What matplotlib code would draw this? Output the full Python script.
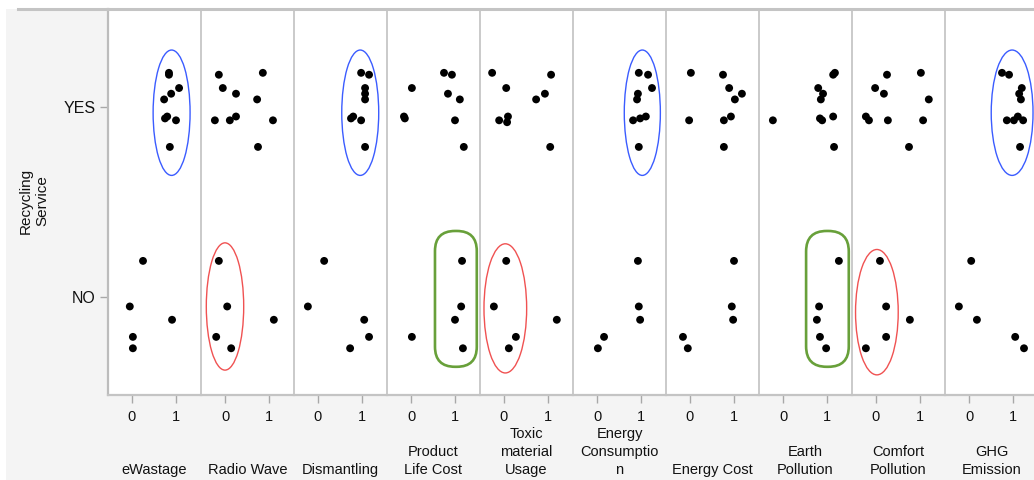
"""
Recycling Service (YES/NO) vs ten binary attributes: jittered dot panels
with highlight shapes, JMP-style.
"""
import matplotlib
matplotlib.use("Agg")
import matplotlib.pyplot as plt
import matplotlib.patches as mpatches
from matplotlib.lines import Line2D

plt.rcParams["font.family"] = ["Liberation Sans", "DejaVu Sans"]

# ── Data (jittered positions) ───────────────────────────────────────────────
CATEGORIES = ["eWastage", "Radio Wave", "Dismantling", "Product\nLife Cost",
              "Toxic\nmaterial\nUsage", "Energy\nConsumptio\nn", "Energy Cost",
              "Earth\nPollution", "Comfort\nPollution", "GHG\nEmission"]
X_TICKS = [0, 1]
X_TICK_LABELS = ["0", "1"]
Y_TICKS = [0, 1]
Y_TICK_LABELS = ["NO", "YES"]

yes_x = {
    "eWastage":    [0.84, 0.84, 1.07, 0.89, 0.73, 0.80, 0.75, 1.00, 0.86],
    "Radio Wave":  [0.86, -0.14, -0.05, 0.25, 0.73, 0.25, 0.11, -0.23, 1.09, 0.75],
    "Dismantling": [0.98, 1.16, 1.07, 1.07, 1.07, 0.80, 0.75, 0.98, 1.07],
    "Product":     [0.75, 0.93, 0.02, 0.84, 1.11, -0.16, -0.14, 1.00, 1.20],
    "Toxic":       [-0.27, 1.07, 0.05, 0.93, 0.73, 0.09, -0.11, 0.07, 1.05],
    "Consumption": [0.95, 1.16, 1.25, 0.93, 0.91, 1.11, 0.98, 0.82, 0.95],
    "Energy Cost": [0.02, 0.75, 0.89, 1.18, 1.02, 0.93, 0.77, -0.02, 0.77],
    "Earth":       [1.18, 1.14, 0.80, 0.91, 0.86, 1.14, 0.84, 0.89, -0.23, 1.16],
    "Comfort":     [0.25, 1.02, -0.02, 0.18, 1.20, -0.23, -0.16, 0.27, 1.07, 0.75],
    "GHG":         [0.75, 0.91, 1.20, 1.14, 1.18, 1.11, 0.86, 1.02, 1.23, 1.16],
}
yes_y = {
    "eWastage":    [1.18, 1.17, 1.10, 1.07, 1.04, 0.95, 0.94, 0.93, 0.79],
    "Radio Wave":  [1.18, 1.17, 1.10, 1.07, 1.04, 0.95, 0.93, 0.93, 0.93, 0.79],
    "Dismantling": [1.18, 1.17, 1.10, 1.07, 1.04, 0.95, 0.94, 0.93, 0.79],
    "Product":     [1.18, 1.17, 1.10, 1.07, 1.04, 0.95, 0.94, 0.93, 0.79],
    "Toxic":       [1.18, 1.17, 1.10, 1.07, 1.04, 0.95, 0.93, 0.92, 0.79],
    "Consumption": [1.18, 1.17, 1.10, 1.07, 1.04, 0.95, 0.94, 0.93, 0.79],
    "Energy Cost": [1.18, 1.17, 1.10, 1.07, 1.04, 0.95, 0.93, 0.93, 0.79],
    "Earth":       [1.18, 1.17, 1.10, 1.07, 1.04, 0.95, 0.94, 0.93, 0.93, 0.79],
    "Comfort":     [1.17, 1.18, 1.10, 1.07, 1.04, 0.95, 0.93, 0.93, 0.93, 0.79],
    "GHG":         [1.18, 1.17, 1.10, 1.07, 1.04, 0.95, 0.93, 0.93, 0.93, 0.79],
}
no_x = {
    "eWastage":    [0.25, -0.05, 0.91, 0.02, 0.02],
    "Radio Wave":  [-0.14, 0.05, 1.11, -0.20, 0.14],
    "Dismantling": [0.14, -0.23, 1.05, 1.16, 0.73],
    "Product":     [1.16, 1.14, 1.00, 0.02, 1.18],
    "Toxic":       [0.05, -0.23, 1.20, 0.27, 0.11],
    "Consumption": [0.93, 0.95, 0.98, 0.16, 0.02],
    "Energy Cost": [1.00, 0.95, 0.98, -0.16, -0.05],
    "Earth":       [1.27, 0.82, 0.77, 0.84, 0.98],
    "Comfort":     [0.09, 0.23, 0.77, 0.23, -0.23],
    "GHG":         [0.05, -0.23, 0.18, 1.05, 1.25],
}
no_y = [0.19, -0.05, -0.12, -0.21, -0.27]   # same rows in every panel

KEYS = list(yes_x.keys())

# highlight shapes: (panel, kind, cx, cy, w, h, colour)
HIGHLIGHTS = [
    (0, "ellipse", 0.90, 0.97, 0.84, 0.66, "#3b5cff"),
    (2, "ellipse", 0.96, 0.97, 0.84, 0.66, "#3b5cff"),
    (5, "ellipse", 1.03, 0.97, 0.82, 0.66, "#3b5cff"),
    (9, "ellipse", 0.98, 0.97, 0.95, 0.66, "#3b5cff"),
    (1, "ellipse", 0.00, -0.05, 0.85, 0.67, "#f05252"),
    (4, "ellipse", 0.03, -0.06, 0.97, 0.68, "#f05252"),
    (8, "ellipse", 0.02, -0.08, 0.97, 0.66, "#f05252"),
    (3, "stadium", 1.02, -0.01, 0.95, 0.715, "#68a03a"),
    (7, "stadium", 1.01, -0.01, 0.97, 0.715, "#68a03a"),
]

# ── Layout (pixels) ─────────────────────────────────────────────────────────
W, H = 1034, 480
LEFT, TOP, BOTTOM, PANEL_W = 108, 9, 395, 93
GRID = "#c4c4c4"
INK = "#111111"

fig = plt.figure(figsize=(W / 100, H / 100), dpi=100, facecolor="white")
fig.patches.append(mpatches.Rectangle((6 / W, 0), 1, 1 - TOP / H,
                                      transform=fig.transFigure,
                                      facecolor="#f4f4f4", edgecolor="none",
                                      zorder=-10))
fig.add_artist(Line2D([18 / W, 1], [1 - TOP / H, 1 - TOP / H],
                      transform=fig.transFigure, color=GRID, lw=2.2))

axes = []
for i, key in enumerate(KEYS):
    ax = fig.add_axes([(LEFT + PANEL_W * i) / W, (H - BOTTOM) / H,
                       PANEL_W / W, (BOTTOM - TOP) / H])
    ax.set_facecolor("white")
    ax.set_xlim(-24 / 44, 69 / 44)
    ax.set_ylim(-0.516, 1.516)

    ax.scatter(yes_x[key], yes_y[key], s=32, c="black", edgecolors="none",
               zorder=3)
    ax.scatter(no_x[key], no_y, s=32, c="black", edgecolors="none", zorder=3)

    ax.set_xticks(X_TICKS)
    ax.set_xticklabels(X_TICK_LABELS, fontsize=10.5, color=INK)
    ax.tick_params(axis="x", length=6, width=1, color="#a8a8a8", pad=4.5)
    for s in ["top", "right"]:
        ax.spines[s].set_visible(False)
    ax.spines["bottom"].set_color(GRID)
    ax.spines["bottom"].set_linewidth(1.6)
    ax.spines["left"].set_color("#bcbcbc")
    ax.spines["left"].set_linewidth(1.6 if i == 0 else 1.1)

    if i == 0:
        ax.set_yticks(Y_TICKS)
        ax.set_yticklabels(Y_TICK_LABELS, fontsize=11.5, color=INK)
        ax.tick_params(axis="y", length=6, width=1, color="#a8a8a8", pad=3)
    else:
        ax.set_yticks([])
    axes.append(ax)

    # category label, bottom aligned under the panel
    fig.text((LEFT + PANEL_W * (i + 0.5)) / W, 3 / H, CATEGORIES[i],
             ha="center", va="bottom", fontsize=10.5, linespacing=1.35,
             color=INK)

# ── Highlight shapes ────────────────────────────────────────────────────────
for idx, kind, cx, cy, w, h, col in HIGHLIGHTS:
    ax = axes[idx]
    if kind == "ellipse":
        p = mpatches.Ellipse((cx, cy), w, h, fill=False, edgecolor=col,
                             lw=1.0, zorder=4, clip_on=False)
    else:
        r = w / 2 - 0.02
        p = mpatches.FancyBboxPatch((cx - w / 2 + r, cy - h / 2 + r * 44 / 190),
                                    w - 2 * r, h - 2 * r * 44 / 190,
                                    boxstyle=f"round,pad={r},rounding_size={r}",
                                    mutation_aspect=44 / 190, fill=False,
                                    edgecolor=col, lw=1.9, zorder=4,
                                    clip_on=False)
    ax.add_patch(p)

fig.text(34 / W, 1 - 201 / H, "Recycling\nService", rotation=90,
         ha="center", va="center", fontsize=11, color=INK,
         linespacing=1.2)

fig.savefig("out.png", dpi=100, facecolor=fig.get_facecolor())
